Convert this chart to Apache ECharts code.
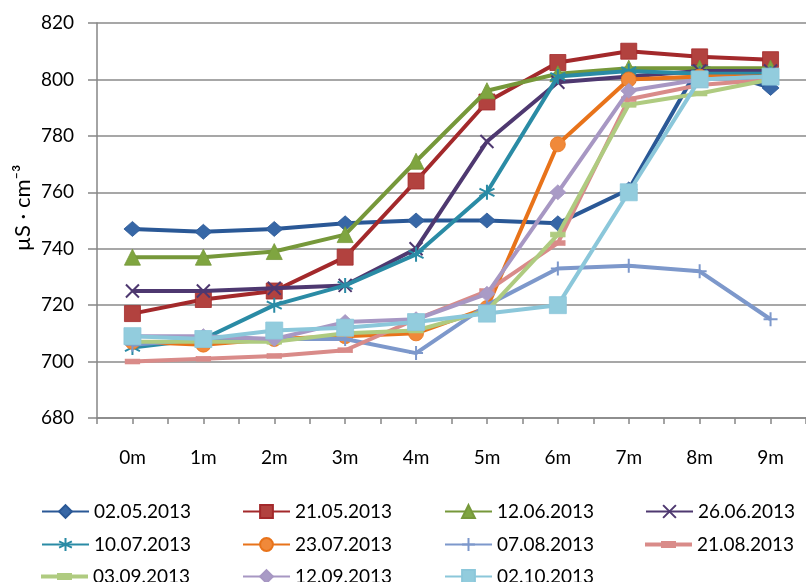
<!DOCTYPE html>
<html>
<head>
<meta charset="utf-8">
<script src="https://cdn.jsdelivr.net/npm/echarts@6/dist/echarts.min.js"></script>
<style>
html,body{margin:0;padding:0;background:#fff;}
#chart{width:806px;height:582px;}
</style>
</head>
<body>
<div id="chart"></div>
<script>
var categories = ['0m','1m','2m','3m','4m','5m','6m','7m','8m','9m'];
var yTicks = [680,700,720,740,760,780,800,820];
var seriesNames = ['02.05.2013','21.05.2013','12.06.2013','26.06.2013','10.07.2013','23.07.2013','07.08.2013','21.08.2013','03.09.2013','12.09.2013','02.10.2013'];
var s020513 = [747,746,747,749,750,750,749,761,805,797];
var s210513 = [717,722,725,737,764,792,806,810,808,807];
var s120613 = [737,737,739,745,771,796,802,804,804,804];
var s260613 = [725,725,726,727,740,778,799,801,803,803];
var s100713 = [705,708,720,727,738,760,801,803,802,802];
var s230713 = [707,706,708,709,710,719,777,800,801,801];
var s070813 = [706,708,708,708,703,720,733,734,732,715];
var s210813 = [700,701,702,704,715,725,742,793,798,800];
var s030913 = [707,707,707,710,711,718,745,791,795,800];
var s120913 = [709,709,708,714,715,724,760,796,800,801];
var s021013 = [709,708,711,712,714,717,720,760,800,801];
var allData = [s020513,s210513,s120613,s260613,s100713,s230713,s070813,s210813,s030913,s120913,s021013];
var yAxisTitle = 'µS · cm⁻³';

var FONT = 'Lato';
var lineColors = ['#2A5896','#A3292B','#76983A','#4E3870','#2A8BA5','#E8731A','#7D98CB','#D98B89','#AFCB80','#A797C3','#8BC7DA'];
var markerColors = ['#3767A6','#B2423F','#7FA540','#4E3870','#2A8BA5','#F0893A','#7D98CB','#D98B89','#AFCB80','#A99BC6','#92CCDD'];
var XPATH = 'path://M0,0L10,10M10,0L0,10';
var STAR = 'path://M5,0L5,10M0.7,2.5L9.3,7.5M9.3,2.5L0.7,7.5';
var PLUS = 'path://M5,0L5,10M0,5L10,5';
var DASH = 'path://M0,0L10,0L10,3L0,3Z';
var DASH_LEGEND = 'path://M0,1.5L47,1.5L47,5.5L0,5.5Z M16,0L31,0L31,7L16,7Z';
var symbols = ['diamond','rect','triangle',XPATH,STAR,'circle',PLUS,DASH,DASH,'diamond','rect'];
var sizes = [[17,15],16,16,13,15,15,14,[14,5],[14,5],[16,15],17];
var strokeOnly = [false,false,false,true,true,false,true,false,false,false,false];

var series = seriesNames.map(function(n,i){
  var so = strokeOnly[i];
  return {
    name: n,
    type: 'line',
    data: allData[i],
    symbol: symbols[i],
    symbolSize: sizes[i],
    showAllSymbol: true,
    lineStyle: {color: lineColors[i], width: 4},
    itemStyle: so ? {color: lineColors[i], borderColor: lineColors[i], borderWidth: 2}
                  : {color: markerColors[i], borderColor: lineColors[i], borderWidth: 0.8},
    emphasis: {disabled: true},
    animation: false,
    z: 2 + i
  };
});

var colX = [41, 242, 444, 645];
var rowY = [510, 543, 575];
var legends = seriesNames.map(function(n,i){
  var r = Math.floor(i/4), c = i%4;
  var item = (symbols[i] === DASH) ? {name: n, icon: DASH_LEGEND, itemStyle: {color: lineColors[i], borderWidth: 0}} : n;
  return {
    orient: 'horizontal',
    left: colX[c],
    top: rowY[r] - 8,
    itemWidth: 47,
    itemHeight: 16,
    itemGap: 0,
    padding: 0,
    symbolKeepAspect: true,
    textStyle: {fontFamily: FONT, fontSize: 19, color: '#000'},
    data: [item],
    selectedMode: false
  };
});

var chart = echarts.init(document.getElementById('chart'), null, {renderer: 'canvas'});
chart.setOption({
  backgroundColor: '#fff',
  animation: false,
  grid: {left: 97, top: 23, width: 711, height: 395, containLabel: false},
  legend: legends,
  graphic: [{
    type: 'text',
    x: 23,
    y: 208,
    rotation: Math.PI/2,
    style: {text: yAxisTitle, fontFamily: FONT, fontSize: 22, fill: '#000', align: 'center', verticalAlign: 'middle'}
  }],
  xAxis: [{
    type: 'category',
    data: categories,
    boundaryGap: true,
    axisLine: {lineStyle: {color: '#868686', width: 1.5}},
    axisTick: {show: true, length: 6, lineStyle: {color: '#868686', width: 1.5}},
    axisLabel: {fontFamily: FONT, fontSize: 19, color: '#000', margin: 30},
    splitLine: {show: false}
  },{
    type: 'category',
    data: categories,
    boundaryGap: true,
    position: 'bottom',
    axisLine: {show: false},
    axisTick: {show: true, alignWithLabel: true, length: 6, lineStyle: {color: '#868686', width: 1.5}},
    axisLabel: {show: false},
    splitLine: {show: false}
  }],
  yAxis: {
    type: 'value',
    min: yTicks[0],
    max: yTicks[yTicks.length-1],
    interval: 20,
    axisLine: {show: true, lineStyle: {color: '#868686', width: 1.5}},
    axisTick: {show: true, length: 9, lineStyle: {color: '#868686', width: 1.5}},
    axisLabel: {fontFamily: FONT, fontSize: 19, color: '#000', margin: 23},
    splitLine: {show: true, lineStyle: {color: '#8a8a8a', width: 1.5}}
  },
  series: series
});
</script>
</body>
</html>
